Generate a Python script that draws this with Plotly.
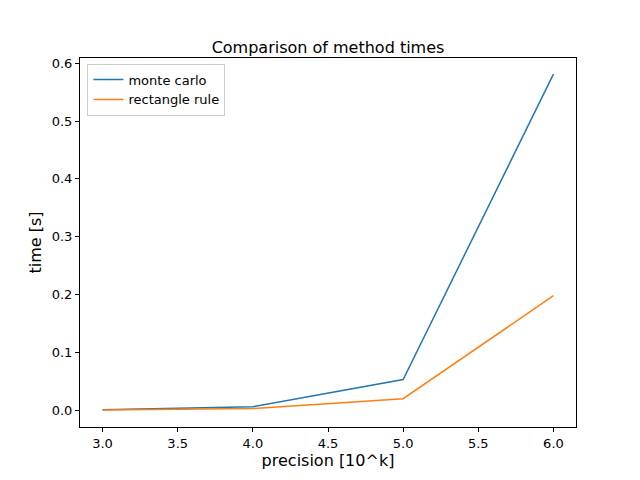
import plotly.graph_objects as go

precision = [3, 4, 5, 6]
monte_carlo = [0.001, 0.006, 0.053, 0.581]
rectangle_rule = [0.0005, 0.003, 0.020, 0.198]

fig = go.Figure()
fig.add_trace(go.Scatter(x=precision, y=monte_carlo, mode="lines", name="monte carlo",
                         line=dict(color="#1f77b4", width=1.5)))
fig.add_trace(go.Scatter(x=precision, y=rectangle_rule, mode="lines", name="rectangle rule",
                         line=dict(color="#ff7f0e", width=1.5)))

axis = dict(showgrid=False, zeroline=False, showline=True, mirror=True, linecolor="black",
            ticks="outside", ticklen=4, tickcolor="black")
fig.update_layout(
    width=640, height=480,
    margin=dict(l=72, r=72, t=50, b=61),
    plot_bgcolor="white", paper_bgcolor="white",
    font=dict(family="DejaVu Sans", size=13, color="black"),
    title=dict(text="Comparison of method times", x=0.5, xanchor="center", y=0.93, font=dict(size=16)),
    xaxis=dict(axis, title=dict(text="precision [10^k]", standoff=4), range=[2.85, 6.15],
               tickvals=[3, 3.5, 4, 4.5, 5, 5.5, 6], ticktext=["3.0", "3.5", "4.0", "4.5", "5.0", "5.5", "6.0"]),
    yaxis=dict(axis, title=dict(text="time [s]", standoff=6), range=[-0.029, 0.609],
               tickvals=[0, 0.1, 0.2, 0.3, 0.4, 0.5, 0.6], ticktext=["0.0", "0.1", "0.2", "0.3", "0.4", "0.5", "0.6"]),
    legend=dict(x=0.015, y=0.985, xanchor="left", yanchor="top", bgcolor="rgba(255,255,255,0.8)",
                bordercolor="#cccccc", borderwidth=1, font=dict(size=13)),
    showlegend=True,
)
fig.write_html("out.html")
